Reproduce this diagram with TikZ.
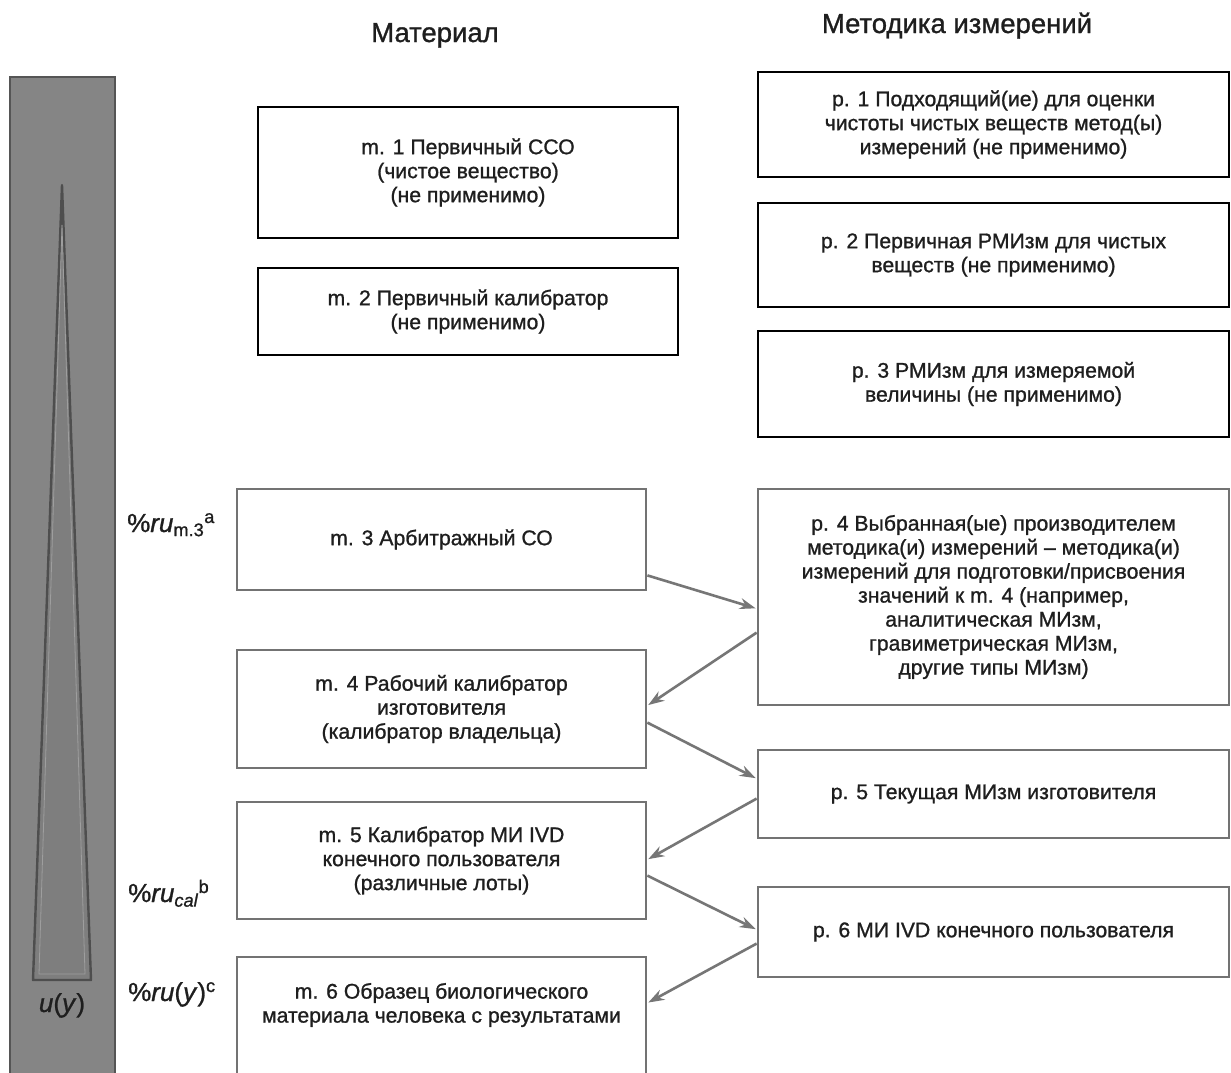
\documentclass[tikz,border=0pt]{standalone}
\usepackage{fontspec}
\setmainfont{Liberation Sans}
\newfontfamily\boxfont{Liberation Sans}[FakeBold=1.0]
\usetikzlibrary{arrows.meta}
\definecolor{txt}{HTML}{1E1E1E}
\definecolor{boxgray}{HTML}{737373}
\definecolor{arrowgray}{HTML}{767676}
\definecolor{barfill}{HTML}{858585}
\definecolor{barline}{HTML}{555555}
\definecolor{trifill}{HTML}{7E7E7E}
\definecolor{triline}{HTML}{4E4E4E}
\definecolor{triinner}{HTML}{9E9E9E}
\begin{document}
\begin{tikzpicture}[x=1pt,y=-1pt,
  boxtext/.style={font=\boxfont\fontsize{21.2}{24}\selectfont, text=txt, align=center, inner sep=0pt},
  topbox/.style={boxtext, rectangle, draw=black, line width=2.8pt},
  lowbox/.style={boxtext, rectangle, draw=boxgray, line width=2.8pt},
  lowframe/.style={draw=boxgray, line width=2.8pt},
  link/.style={draw=arrowgray, line width=2.6pt, shorten >=1pt, -{Stealth[length=16pt,width=11pt]}},
  header/.style={font=\boxfont\fontsize{27.5}{32}\selectfont, text=txt, anchor=base, inner sep=0pt},
  sidelabel/.style={font=\boxfont\fontsize{26}{30}\selectfont, text=txt, anchor=base west, inner sep=0pt}]
\useasboundingbox (0,0) rectangle (1231,1072);
\clip (0,0) rectangle (1231,1072);
\fill[white] (0,0) rectangle (1231,1072);

% left bar with triangle
\draw[fill=barfill, draw=barline, line width=2.6pt] (10,77) rectangle (115,1090);
\draw[fill=trifill, draw=triline, line width=2.4pt, line join=round] (62,185) -- (91,980) -- (33,980) -- cycle;
\draw[draw=triinner, line width=0.8pt] (62,225) -- (85,974) -- (39,974) -- cycle;
\node[font=\boxfont\fontsize{26}{30}\selectfont, text=txt, anchor=base, inner sep=0pt] (uy) at (62,1012) {\textit{u}(\textit{y})};

% headers
\node[header] (hmat) at (435,42) {Материал};
\node[header] (hmeth) at (957,33) {Методика измерений};

% top (not applicable) boxes
\node[topbox, minimum width=420pt, minimum height=131pt] (m1) at (468,172.5)
  {m. 1 Первичный ССО\\(чистое вещество)\\(не применимо)};
\node[topbox, minimum width=420pt, minimum height=87pt] (m2) at (468,311.5)
  {m. 2 Первичный калибратор\\(не применимо)};
\node[topbox, minimum width=471pt, minimum height=105pt] (p1) at (993.5,124.5)
  {р. 1 Подходящий(ие) для оценки\\чистоты чистых веществ метод(ы)\\измерений (не применимо)};
\node[topbox, minimum width=471pt, minimum height=104pt] (p2) at (993.5,255)
  {р. 2 Первичная РМИзм для чистых\\веществ (не применимо)};
\node[topbox, minimum width=471pt, minimum height=106pt] (p3) at (993.5,384)
  {р. 3 РМИзм для измеряемой\\величины (не применимо)};

% lower boxes
\node[lowbox, minimum width=409pt, minimum height=101pt] (m3) at (441.5,539.5)
  {m. 3 Арбитражный СО};
\node[lowbox, minimum width=409pt, minimum height=118pt] (m4) at (441.5,709)
  {m. 4 Рабочий калибратор\\изготовителя\\(калибратор владельца)};
\node[lowbox, minimum width=409pt, minimum height=117pt] (m5) at (441.5,860.5)
  {m. 5 Калибратор МИ IVD\\конечного пользователя\\(различные лоты)};
\draw[lowframe] (237,1090) |- (646,957) -- (646,1090);
\node[boxtext] (m6) at (441.5,1005)
  {m. 6 Образец биологического\\материала человека с результатами};
\coordinate (m6in) at (647.4,1003);

\node[lowbox, minimum width=471pt, minimum height=216pt] (p4) at (993.5,597)
  {р. 4 Выбранная(ые) производителем\\методика(и) измерений – методика(и)\\измерений для подготовки/присвоения\\значений к m. 4 (например,\\аналитическая МИзм,\\гравиметрическая МИзм,\\другие типы МИзм)};
\node[lowbox, minimum width=471pt, minimum height=88pt] (p5) at (993.5,794)
  {р. 5 Текущая МИзм изготовителя};
\node[lowbox, minimum width=471pt, minimum height=90pt] (p6) at (993.5,932)
  {р. 6 МИ IVD конечного пользователя};

% side labels
\node[sidelabel] (lm3) at (127,532) {\%\textit{ru}\textsubscript{m.3}\textsuperscript{a}};
\node[sidelabel] (lcal) at (128,902) {\%\textit{ru}\textsubscript{\textit{cal}}\textsuperscript{b}};
\node[sidelabel] (lruy) at (128,1001) {\%\textit{ru}(\textit{y})\textsuperscript{c}};

% connectors
\draw[link] ([yshift=16pt]m3.south east) -- ([yshift=-121pt]p4.north west);
\draw[link] ([yshift=-145pt]p4.north west) -- ([yshift=-57pt]m4.north east);
\draw[link] ([yshift=-74pt]m4.north east) -- ([yshift=-30pt]p5.north west);
\draw[link] ([yshift=-50pt]p5.north west) -- ([yshift=-59pt]m5.north east);
\draw[link] ([yshift=-75pt]m5.north east) -- ([yshift=-44pt]p6.north west);
\draw[link] ([yshift=-58pt]p6.north west) -- (m6in);
\end{tikzpicture}
\end{document}
